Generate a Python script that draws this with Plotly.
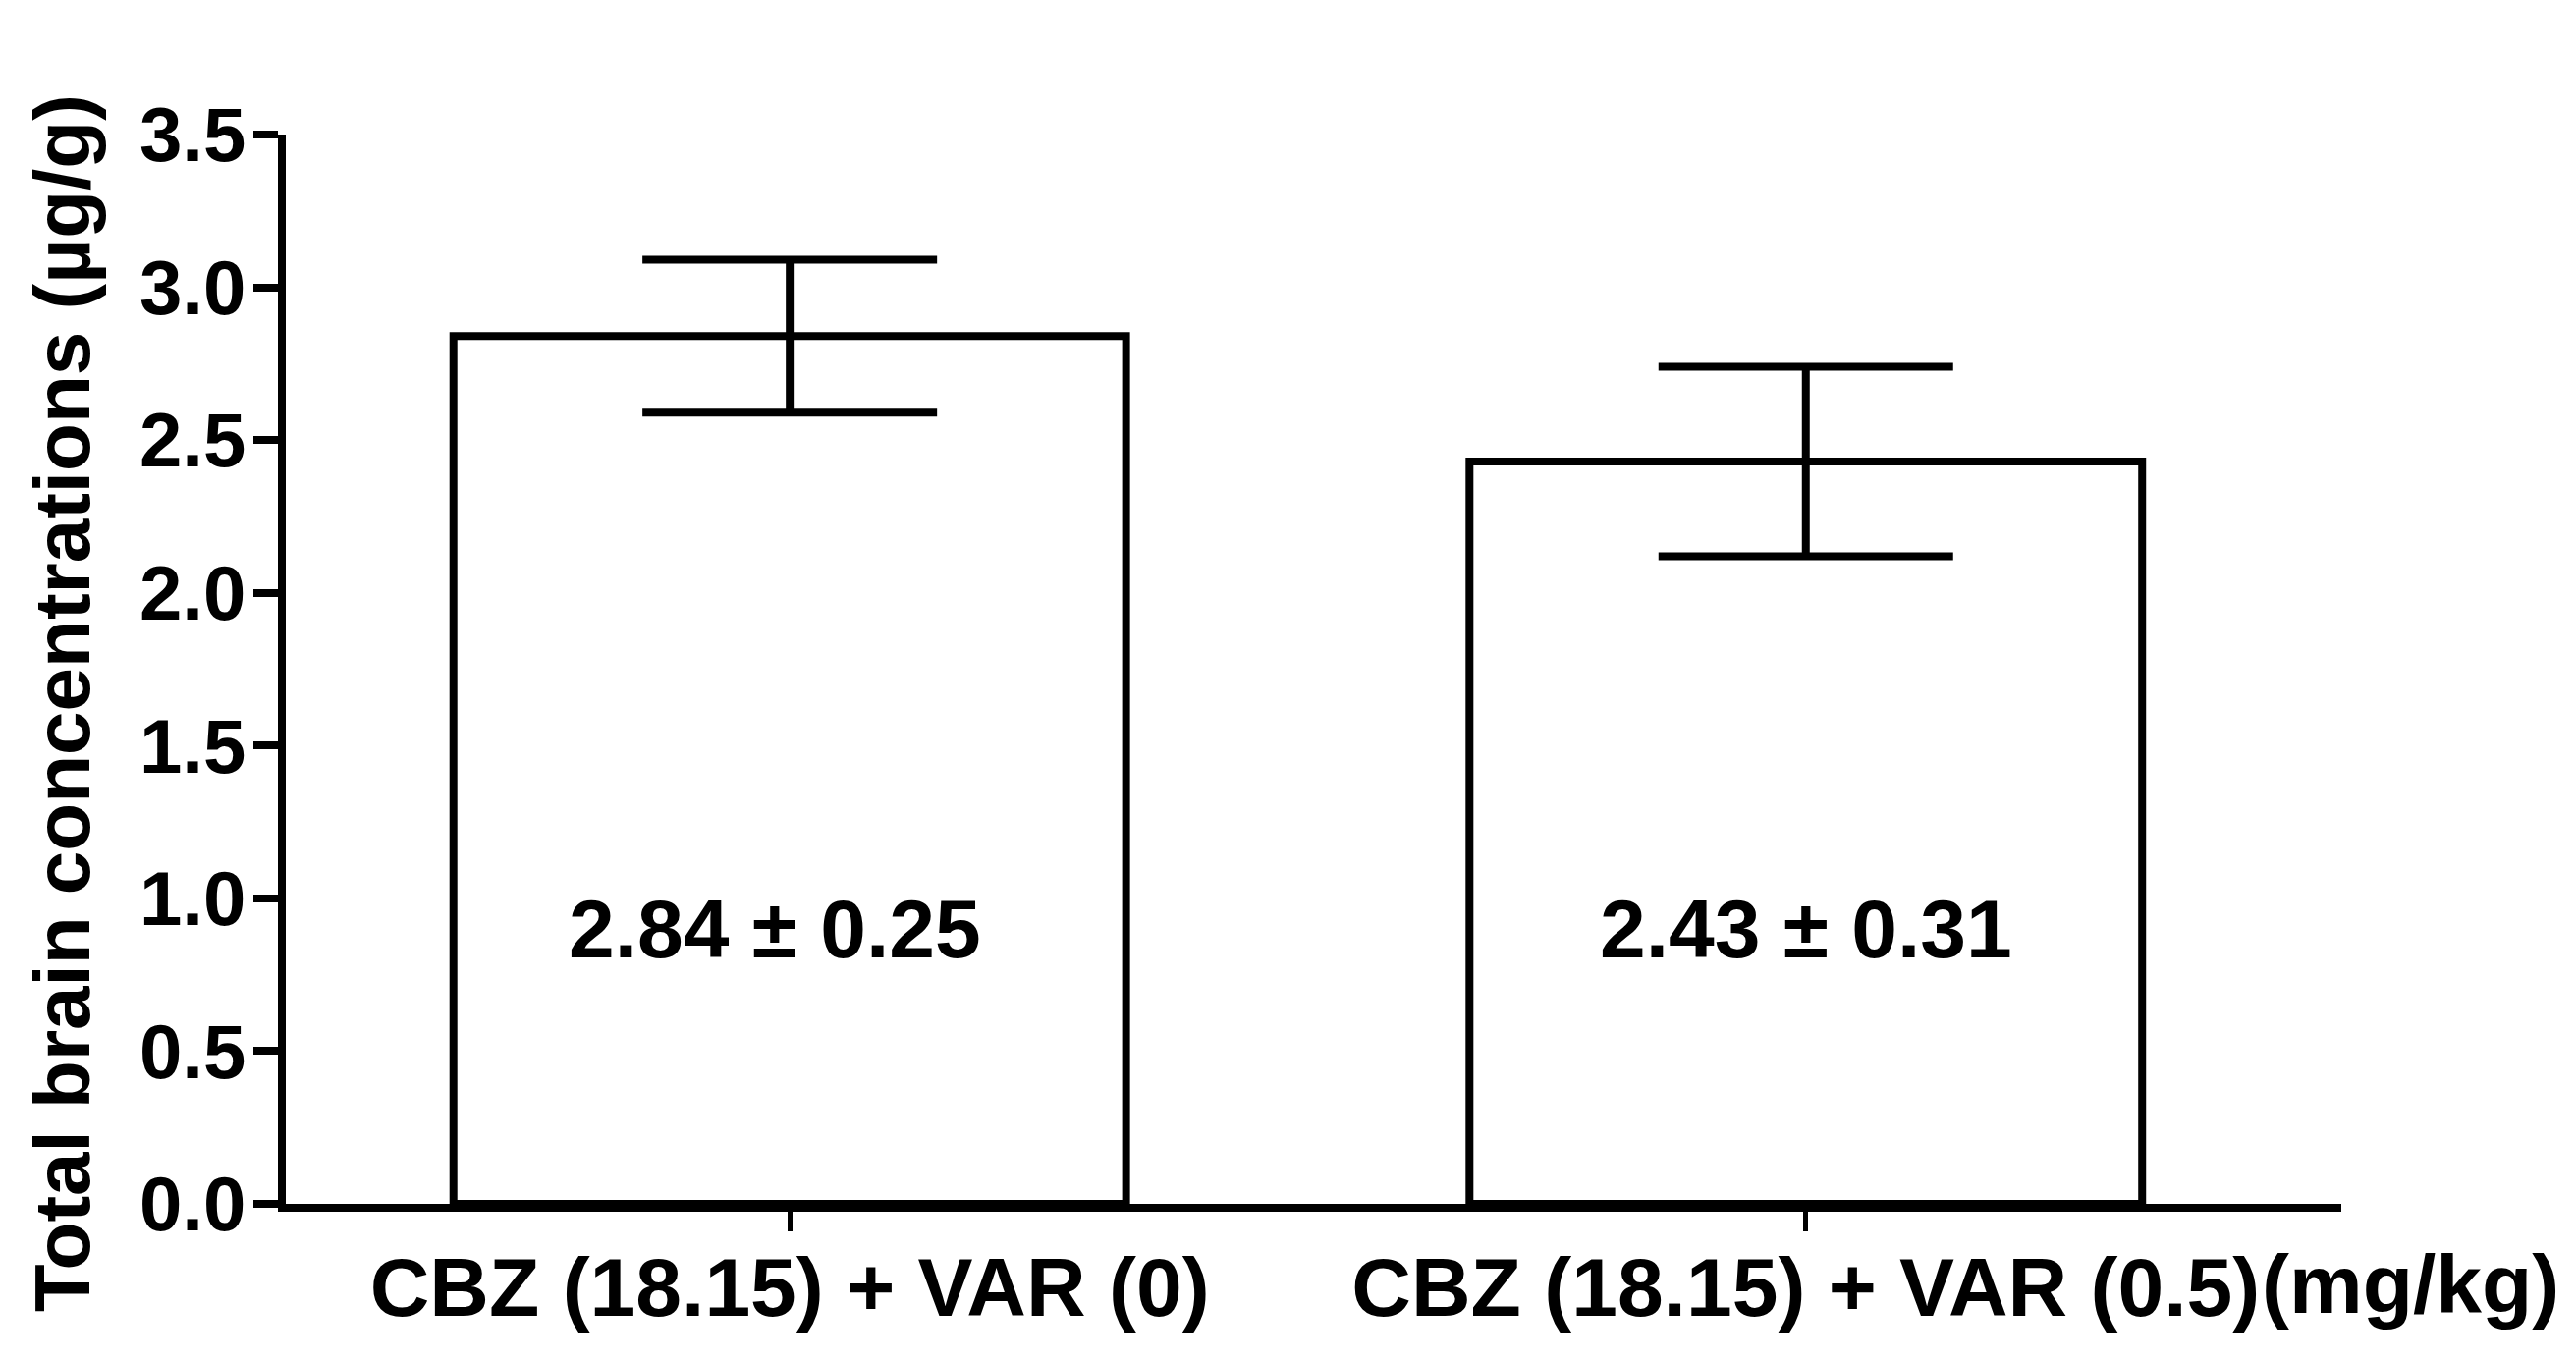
import plotly.graph_objects as go

categories = ["CBZ (18.15) + VAR (0)", "CBZ (18.15) + VAR (0.5)"]
means = [2.84, 2.43]
sems = [0.25, 0.31]
value_labels = ["2.84 ± 0.25", "2.43 ± 0.31"]
y_ticks = [0.0, 0.5, 1.0, 1.5, 2.0, 2.5, 3.0, 3.5]
y_title = "Total brain concentrations (µg/g)"
unit_label = "(mg/kg)"

FONT = "Liberation Sans, Arial, sans-serif"
W, H = 2623, 1386
ML, MR, MT, MB = 283, 247, 129, 168
PW, PH = W - ML - MR, H - MT - MB

fig = go.Figure()
fig.add_trace(go.Bar(
    x=[0, 1], y=means, width=0.662,
    marker=dict(color="white", line=dict(color="black", width=8)),
    error_y=dict(type="data", array=sems, visible=True, color="black", thickness=8, width=150),
    showlegend=False,
))

label_shift = [-15, 0]
for i, lab in enumerate(value_labels):
    fig.add_annotation(x=i, y=0.90, xref="x", yref="y", text=f"<b>{lab}</b>",
                       showarrow=False, xshift=label_shift[i],
                       font=dict(family=FONT, size=84, color="black"))

# unit label to the right of the last category label
fig.add_annotation(x=(2293 - ML) / PW, xref="paper", y=0, yref="paper", text=f"<b>{unit_label}</b>",
                   showarrow=False, xanchor="left", yanchor="middle", yshift=-82,
                   font=dict(family=FONT, size=84, color="black"))

# y-axis title
fig.add_annotation(x=(55 - ML) / PW, xref="paper", y=0.468, yref="paper", text=f"<b>{y_title}</b>",
                   textangle=-90, showarrow=False, xanchor="center", yanchor="middle",
                   font=dict(family=FONT, size=80, color="black"))

fig.update_xaxes(
    range=[-0.496, 1.527], tickvals=[0, 1], ticktext=[f"<b>{c}</b>" for c in categories],
    showline=True, linecolor="black", linewidth=8, ticks="outside", ticklen=20, tickwidth=5,
    tickcolor="black", showgrid=False, zeroline=False, automargin=False,
    tickfont=dict(family=FONT, size=84, color="black"), ticklabelstandoff=-15,
)
fig.update_yaxes(
    range=[0, 3.5], tickvals=y_ticks, ticktext=[f"<b>{v:.1f}</b>" for v in y_ticks],
    showline=True, linecolor="black", linewidth=8, ticks="outside", ticklen=25, tickwidth=8,
    tickcolor="black", showgrid=False, zeroline=False, automargin=False,
    tickfont=dict(family=FONT, size=78, color="black"), ticklabelstandoff=-8,
)

fig.update_layout(
    width=W, height=H,
    margin=dict(l=ML, r=MR, t=MT, b=MB),
    plot_bgcolor="white", paper_bgcolor="white",
)

fig.write_html("out.html")
